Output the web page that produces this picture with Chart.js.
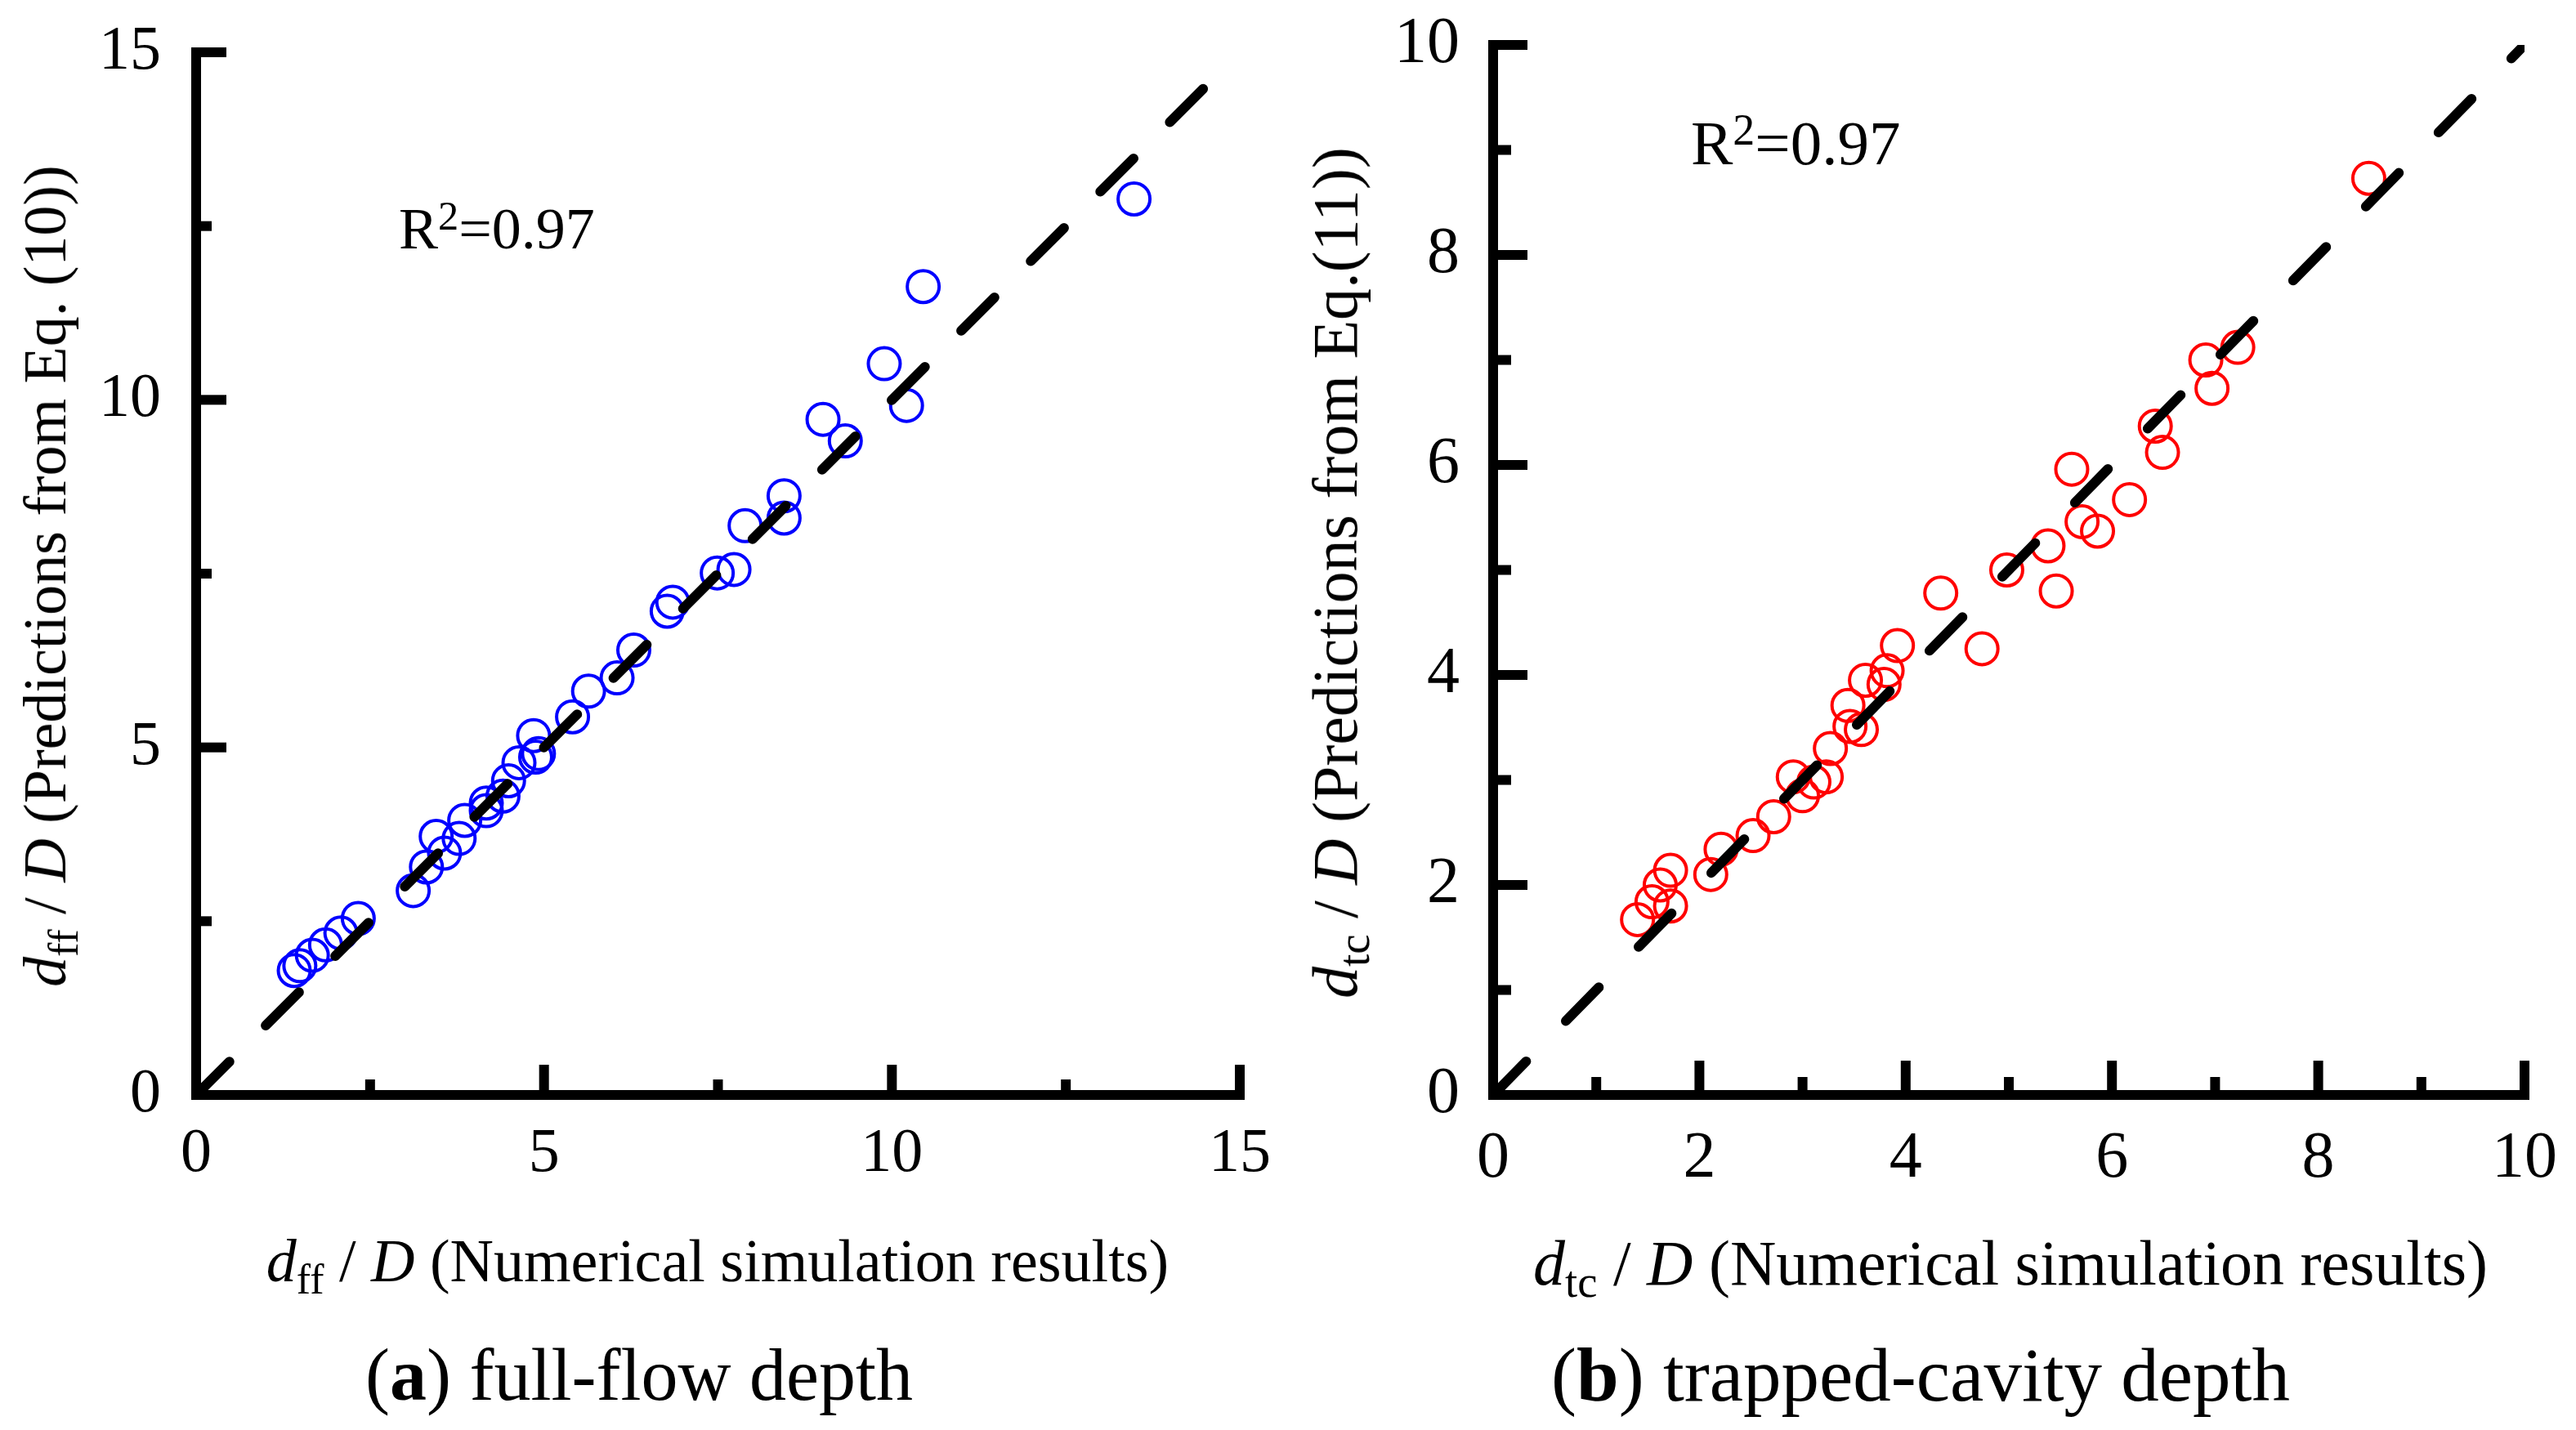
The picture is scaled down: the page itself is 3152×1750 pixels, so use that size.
<!DOCTYPE html>
<html>
<head>
<meta charset="utf-8">
<title>Predicted vs simulated depth</title>
<script src="https://cdn.jsdelivr.net/npm/chart.js@4.4.1/dist/chart.umd.min.js"></script>
<style>
    html, body { margin: 0; padding: 0; background: #fff; }
    #page { position: relative; width: 3152px; height: 1750px; overflow: hidden; background: #fff;
            font-family: "Liberation Serif", "Times New Roman", serif; color: #000; }
    canvas { position: absolute; top: 0; }
    .txt { position: absolute; white-space: nowrap; line-height: 1; }
    .center { transform: translateX(-50%); }
    .rot { transform: translate(-50%, -50%) rotate(-90deg); }
    .sub { font-size: 0.7em; vertical-align: -0.28em; line-height: 0; }
    .sup { font-size: 0.7em; vertical-align: 0.45em; line-height: 0; }
</style>
</head>
<body>
<div id="page">
    <canvas id="ffChart" width="1580" height="1750" style="left:0;width:1580px;height:1750px"></canvas>
    <canvas id="tcChart" width="1572" height="1750" style="left:1580px;width:1572px;height:1750px"></canvas>

    <!-- panel (a) texts -->
    <div class="txt" style="left:488px;top:244px;font-size:72px">R<span class="sup">2</span>=0.97</div>
    <div class="txt rot" style="left:55px;top:705px;font-size:74px"><i>d</i><span class="sub">ff</span> / <i>D</i> (Predictions from Eq. (10))</div>
    <div class="txt center" style="left:878px;top:1506px;font-size:74px"><i>d</i><span class="sub">ff</span> / <i>D</i> (Numerical simulation results)</div>
    <div class="txt center" style="left:782px;top:1638px;font-size:90px">(<b>a</b>) full-flow depth</div>

    <!-- panel (b) texts -->
    <div class="txt" style="left:2069px;top:137px;font-size:77px">R<span class="sup">2</span>=0.97</div>
    <div class="txt rot" style="left:1634px;top:701px;font-size:78px"><i>d</i><span class="sub">tc</span> / <i>D</i> (Predictions from Eq.(11))</div>
    <div class="txt center" style="left:2460px;top:1507px;font-size:78px"><i>d</i><span class="sub">tc</span> / <i>D</i> (Numerical simulation results)</div>
    <div class="txt center" style="left:2350px;top:1636px;font-size:93px">(<b>b</b>) trapped-cavity depth</div>
</div>

<script>
// ============================================
// DATA
// ============================================
// (a) full-flow depth: numerical simulation vs Eq. (10)
const ffSim  = [1.41, 1.49, 1.67, 1.86, 2.08, 2.33, 3.12, 3.31, 3.57, 3.45, 3.78, 3.86,
                4.17, 4.17, 4.41, 4.49, 4.64, 4.92, 4.88, 4.85, 5.41, 5.64, 6.05, 6.29,
                6.77, 6.85, 7.49, 7.73, 7.89, 8.45, 8.45, 9.33, 9.01, 10.21, 9.89, 10.45, 13.48];
const ffPred = [1.79, 1.86, 2.01, 2.16, 2.33, 2.54, 2.94, 3.28, 3.48, 3.72, 3.69, 3.95,
                4.09, 4.20, 4.30, 4.52, 4.78, 4.91, 4.86, 5.17, 5.44, 5.81, 6.00, 6.40,
                6.96, 7.09, 7.51, 7.56, 8.19, 8.30, 8.62, 9.41, 9.72, 9.92, 10.52, 11.63, 12.89];

// (b) trapped-cavity depth: numerical simulation vs Eq. (11)
const tcSim  = [1.40, 1.54, 1.62, 1.72, 1.72, 2.11, 2.21, 2.52, 2.72, 3.00, 2.91, 3.11,
                3.23, 3.27, 3.57, 3.46, 3.44, 3.61, 3.79, 3.82, 3.92, 4.34, 4.74, 4.98,
                5.46, 5.38, 5.86, 5.71, 6.17, 5.61, 6.49, 6.42, 6.97, 6.91, 7.22, 8.49];
const tcPred = [1.67, 1.84, 2.00, 1.80, 2.14, 2.10, 2.34, 2.47, 2.65, 2.85, 3.03, 2.98,
                3.03, 3.30, 3.48, 3.51, 3.71, 3.95, 3.91, 4.04, 4.28, 4.78, 4.25, 5.00,
                4.80, 5.23, 5.37, 5.46, 5.67, 5.96, 6.12, 6.37, 6.73, 7.00, 7.12, 8.73];

// axis ranges and tick values
const ffMajor = [0, 5, 10, 15];
const ffMinor = [2.5, 7.5, 12.5];
const tcMajor = [0, 2, 4, 6, 8, 10];
const tcMinor = [1, 3, 5, 7, 9];

// extent of the dashed 1:1 line (the second one runs past the corner and is clipped)
const ffLine = [0, 14.5];
const tcLine = [0, 10.3];

// ============================================
// PLUGIN - thick axes with inward tick marks
// ============================================
const inwardAxes = {
    id: 'inwardAxes',
    afterDatasetsDraw(chart, args, opts) {
        const ctx = chart.ctx;
        const xs = chart.scales.x, ys = chart.scales.y;
        const lw = opts.lineWidth, h = lw / 2;
        const x0 = xs.getPixelForValue(xs.min), x1 = xs.getPixelForValue(xs.max);
        const y0 = ys.getPixelForValue(ys.min), y1 = ys.getPixelForValue(ys.max);

        ctx.save();
        ctx.fillStyle = '#000';
        // axis lines
        ctx.fillRect(x0 - h, y1 - h, lw, y0 - y1 + lw);
        ctx.fillRect(x0 - h, y0 - h, x1 - x0 + lw, lw);

        // tick marks pointing into the plot
        const drawTicks = (values, len) => {
            values.forEach(v => {
                const px = xs.getPixelForValue(v);
                ctx.fillRect(px - h, y0 - len, lw, len);
                const py = ys.getPixelForValue(v);
                ctx.fillRect(x0, py - h, len, lw);
            });
        };
        drawTicks(opts.major, opts.majorLen);
        drawTicks(opts.minor, opts.minorLen);
        ctx.restore();
    }
};

// Builds one panel
function makePanel(canvasId, p) {
    const points = p.sim.map((x, i) => ({ x: x, y: p.pred[i] }));
    const tickFont = { family: '"Liberation Serif", "Times New Roman", serif', size: p.tickSize };

    return new Chart(document.getElementById(canvasId), {
        type: 'scatter',
        data: {
            datasets: [
                {
                    // dashed 1:1 line, drawn on top of the circles
                    type: 'line',
                    data: p.line.map(v => ({ x: v, y: v })),
                    showLine: true,
                    borderColor: '#000',
                    borderWidth: 12,
                    borderDash: p.dash,
                    borderCapStyle: 'round',
                    pointRadius: 0,
                    fill: false,
                    clip: 0,
                    order: 0
                },
                {
                    data: points,
                    pointStyle: 'circle',
                    pointRadius: 19.5,
                    pointBorderWidth: 4,
                    pointBorderColor: p.color,
                    pointBackgroundColor: 'rgba(0,0,0,0)',
                    clip: false,
                    order: 1
                }
            ]
        },
        options: {
            responsive: false,
            animation: false,
            devicePixelRatio: 1,
            events: [],
            layout: { padding: { top: p.padTop, right: p.padRight, left: 0, bottom: 0 } },
            plugins: {
                legend: { display: false },
                tooltip: { enabled: false },
                inwardAxes: {
                    lineWidth: 12,
                    major: p.major,
                    minor: p.minor,
                    majorLen: p.majorLen,
                    minorLen: p.minorLen
                }
            },
            scales: {
                x: {
                    type: 'linear',
                    min: p.major[0],
                    max: p.major[p.major.length - 1],
                    afterBuildTicks: s => { s.ticks = p.major.map(v => ({ value: v })); },
                    // fixed size, and no extra room for the end labels
                    afterFit: s => { s.height = p.xHeight; s.paddingLeft = 0; s.paddingRight = 0; },
                    grid: { display: false, drawTicks: false },
                    border: { display: false },
                    ticks: { color: '#000', font: tickFont, padding: p.xPad, maxRotation: 0 }
                },
                y: {
                    type: 'linear',
                    min: p.major[0],
                    max: p.major[p.major.length - 1],
                    afterBuildTicks: s => { s.ticks = p.major.map(v => ({ value: v })); },
                    afterFit: s => { s.width = p.yWidth; s.paddingTop = 0; s.paddingBottom = 0; },
                    grid: { display: false, drawTicks: false },
                    border: { display: false },
                    ticks: { color: '#000', font: tickFont, padding: p.yPad }
                }
            }
        },
        plugins: [inwardAxes]
    });
}

// ============================================
// CHARTS
// ============================================
makePanel('ffChart', {
    sim: ffSim, pred: ffPred, line: ffLine,
    major: ffMajor, minor: ffMinor,
    color: '#0000ff', dash: [57.6, 62.7],
    tickSize: 76, xPad: 27, yPad: 43,
    padTop: 64, padRight: 63, yWidth: 240, xHeight: 410,
    majorLen: 37, minorLen: 19
});

makePanel('tcChart', {
    sim: tcSim, pred: tcPred, line: tcLine,
    major: tcMajor, minor: tcMinor,
    color: '#ff0000', dash: [57.6, 69.4],
    tickSize: 80, xPad: 31, yPad: 41,
    padTop: 55, padRight: 63, yWidth: 247, xHeight: 410,
    majorLen: 42, minorLen: 22
});
</script>
</body>
</html>
